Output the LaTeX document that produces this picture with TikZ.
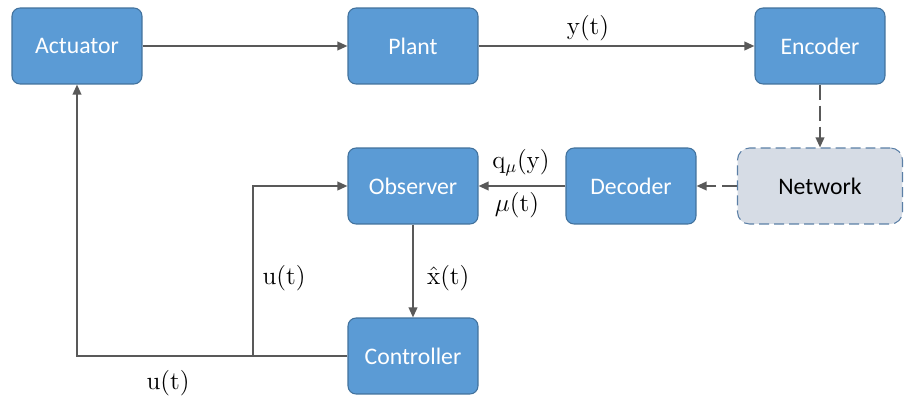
\documentclass[tikz,border=0pt]{standalone}
\usepackage{fontspec}
\newfontfamily\boxfont{Carlito}
\definecolor{blockblue}{HTML}{5B9BD5}
\definecolor{blockedge}{HTML}{41719C}
\definecolor{netfill}{HTML}{D6DCE5}
\definecolor{netedge}{HTML}{5B7FA6}
\definecolor{wiregray}{HTML}{595959}
\usetikzlibrary{arrows.meta}

\begin{document}
\begin{tikzpicture}[x=0.02cm, y=-0.02cm,
  block/.style={draw=blockedge, fill=blockblue, rounded corners=0.16cm, minimum width=2.6cm,
    minimum height=1.52cm, text=white, font=\boxfont\fontsize{13.5}{16}\selectfont, line width=0.6pt},
  netbox/.style={block, fill=netfill, draw=netedge, dash pattern=on 0.2cm off 0.1cm,
    text=black, minimum width=3.3cm, rounded corners=0.24cm},
  wire/.style={draw=wiregray, line width=1.1pt, -{Triangle[length=0.2cm,width=0.17cm]}},
  dashwire/.style={wire, dash pattern=on 0.3cm off 0.12cm},
  sig/.style={font=\fontsize{14.5}{16}\selectfont, inner sep=1pt}]
  \useasboundingbox (0,0) rectangle (906,399);

  % blocks
  \node[block] (act) at (77,46) {Actuator};
  \node[block] (plant) at (413,46) {Plant};
  \node[block] (enc) at (820,46) {Encoder};
  \node[netbox] (net) at (820,186) {Network};
  \node[block] (dec) at (631,186) {Decoder};
  \node[block] (obs) at (413,186) {Observer};
  \node[block] (ctl) at (413,356) {Controller};
  \coordinate (split) at (253,356);

  % connections
  \draw[wire] (act) -- (plant);
  \draw[wire] (plant) -- (enc);
  \draw[dashwire] (enc) -- (net);
  \draw[dashwire] (net) -- (dec);
  \draw[wire] (dec) -- (obs);
  \draw[wire] (obs) -- (ctl);
  \draw[wire] (ctl.west) -| (act.south);
  \draw[wire] (split) |- (obs.west);

  % signals
  \node[sig] (ylab) at (588,28) {y(t)};
  \node[sig] (qlab) at (521,163) {q$_\mu$(y)};
  \node[sig] (mulab) at (517,205) {$\mu$(t)};
  \node[sig, anchor=west] (xlab) at (425,278) {$\hat{\mathrm{x}}$(t)};
  \node[sig] (ulab) at (284,278) {u(t)};
  \node[sig] (ulab2) at (168,383) {u(t)};
\end{tikzpicture}
\end{document}
